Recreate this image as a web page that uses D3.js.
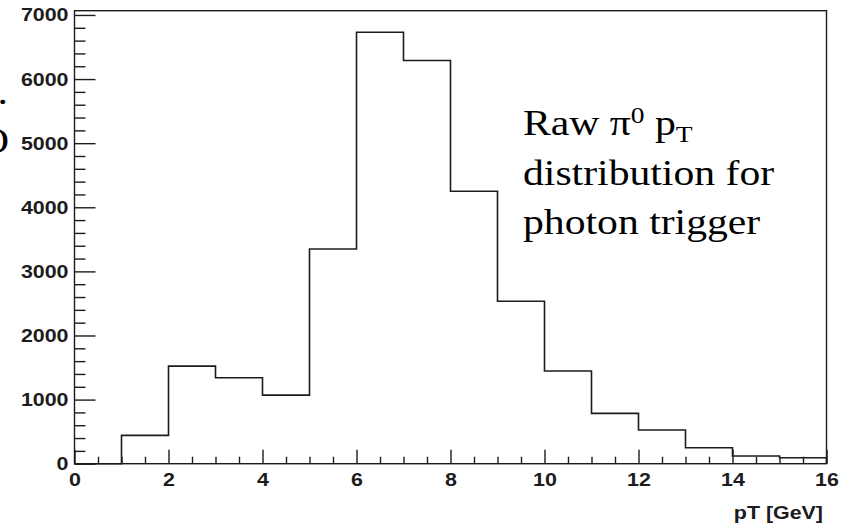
<!DOCTYPE html>
<html>
<head>
<meta charset="utf-8">
<script src="https://cdn.jsdelivr.net/npm/d3@7"></script>
<style>
  html, body { margin: 0; padding: 0; background: #fff; }
  svg { display: block; }
</style>
</head>
<body>
<svg id="chart" width="852" height="524"></svg>
<script>
// Histogram of raw pi0 pT, 1 GeV bins from 0 to 16 GeV
const binEdges = [0, 1, 2, 3, 4, 5, 6, 7, 8, 9, 10, 11, 12, 13, 14, 15, 16];
const binCounts = [0, 442, 1522, 1340, 1070, 3350, 6730, 6290, 4250, 2535, 1445, 785, 525, 249, 120, 93];
const xMajorTicks = [0, 2, 4, 6, 8, 10, 12, 14, 16];
const yMajorTicks = [0, 1000, 2000, 3000, 4000, 5000, 6000, 7000];
const xTitle = "pT [GeV]";
const noteLines = ["distribution for", "photon trigger"];

(function () {
const svg = d3.select("#chart");
const W = 852, H = 524;
const padL = 74.5, padR = 826.5, padT = 10.7, padB = 463.7;
const sx = 1.145;           // horizontal stretch applied to all lettering
const ink = "#1c1c1c";

svg.append("rect").attr("width", W).attr("height", H).attr("fill", "#fff");

const x = d3.scaleLinear().domain([0, 16]).range([padL, padR]);
const yMax = d3.max(binCounts) * 1.05;
const y = d3.scaleLinear().domain([0, yMax]).range([padB, padT]);

// minor ticks
const xMinor = d3.range(0, 16.001, 0.5).filter(v => v % 2 !== 0);
const yMinor = d3.range(0, yMax, 200).filter(v => v % 1000 !== 0);

function styleAxis(g) {
  g.select(".domain").remove();
  g.selectAll(".tick line").attr("stroke", ink).attr("stroke-width", 1.4);
}

// x axis
svg.append("g").attr("transform", `translate(0,${padB})`)
  .call(d3.axisBottom(x).tickValues(xMinor).tickSize(-7).tickFormat(() => ""))
  .call(styleAxis);
const gx = svg.append("g").attr("transform", `translate(0,${padB})`)
  .call(d3.axisBottom(x).tickValues(xMajorTicks).tickSize(-14).tickPadding(9).tickFormat(d3.format("d")))
  .call(styleAxis);

// y axis
svg.append("g").attr("transform", `translate(${padL},0)`)
  .call(d3.axisLeft(y).tickValues(yMinor).tickSize(-11).tickFormat(() => ""))
  .call(styleAxis);
const gy = svg.append("g").attr("transform", `translate(${padL},0)`)
  .call(d3.axisLeft(y).tickValues(yMajorTicks).tickSize(-21).tickPadding(6).tickFormat(d3.format("d")))
  .call(styleAxis);

// bold sans tick labels, stretched horizontally around their anchor
[gx, gy].forEach(g => {
  g.selectAll(".tick text").each(function() {
    const t = d3.select(this);
    const tx = +t.attr("x") || 0, ty = +t.attr("y") || 0;
    t.attr("x", 0).attr("y", 0)
     .attr("transform", `translate(${tx},${ty}) scale(${sx},1)`)
     .attr("font-family", "'Liberation Sans', Arial, sans-serif")
     .attr("font-weight", "bold")
     .attr("font-size", 18.7)
     .attr("fill", ink);
  });
});

// frame
svg.append("rect")
  .attr("x", padL).attr("y", padT)
  .attr("width", padR - padL).attr("height", padB - padT)
  .attr("fill", "none").attr("stroke", ink).attr("stroke-width", 1.4);

// histogram outline
const pts = binCounts.map((c, i) => [binEdges[i], c]);
pts.push([binEdges[binEdges.length - 1], binCounts[binCounts.length - 1]]);
const line = d3.line().x(d => x(d[0])).y(d => y(d[1])).curve(d3.curveStepAfter);
svg.append("path")
  .attr("d", line([[0, 0], ...pts, [16, 0]]))
  .attr("fill", "none").attr("stroke", ink).attr("stroke-width", 1.6);

// x axis title
svg.append("text")
  .attr("transform", `translate(823,519) scale(${sx},1)`)
  .attr("text-anchor", "end")
  .attr("font-family", "'Liberation Sans', Arial, sans-serif")
  .attr("font-weight", "bold")
  .attr("font-size", 18.7)
  .attr("fill", ink)
  .text(xTitle);

// annotation in serif
const serif = "'Liberation Serif', 'Times New Roman', serif";
const note = svg.append("g")
  .attr("font-family", serif).attr("font-size", 36.4).attr("fill", "#000");

const l1 = note.append("text").attr("transform", `translate(523,135) scale(${sx},1)`);
l1.append("tspan").text("Raw \u03C0");
l1.append("tspan").attr("font-size", 24).attr("dy", -12).text("0");
l1.append("tspan").attr("dy", 12).text(" p");
l1.append("tspan").attr("font-size", 24).attr("dy", 7).text("T");

noteLines.forEach((s, i) => {
  note.append("text")
    .attr("transform", `translate(523,${185 + i * 49}) scale(${sx},1)`)
    .text(s);
});

// text clipped at the left edge of the page
note.append("text").attr("transform", `translate(-2.5,104) scale(${sx},1)`).text(".");
note.append("text").attr("transform", `translate(-21,153) scale(${sx},1)`).text("O");
})();
</script>
</body>
</html>
